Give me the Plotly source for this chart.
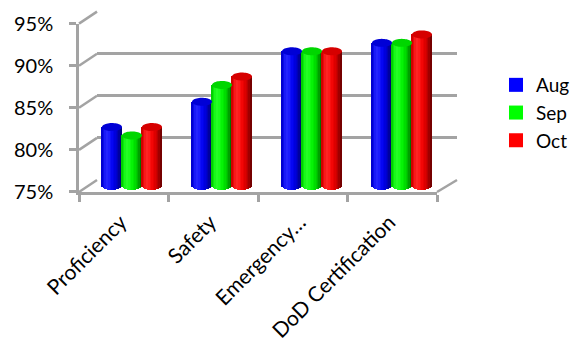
import numpy as np
import plotly.graph_objects as go

# ---------------- data ----------------
categories = ["Proficiency", "Safety", "Emergency…", "DoD Certification"]
series_names = ["Aug", "Sep", "Oct"]
aug = [0.82, 0.85, 0.91, 0.92]
sep = [0.81, 0.87, 0.91, 0.92]
oct_ = [0.82, 0.88, 0.91, 0.93]
series_values = [aug, sep, oct_]
y_ticks = [0.75, 0.80, 0.85, 0.90, 0.95]
y_tick_labels = ["75%", "80%", "85%", "90%", "95%"]
series_rgb = [(0, 0, 255), (0, 255, 0), (255, 0, 0)]

# ---------------- geometry (pixels, window coordinates) ----------------
OFF = 8                 # page body margin
W, H = 586 - OFF, 343 - OFF
PPU = 842.0             # pixels per 1.0 (100%)
Y0 = 0.75
FRONT_X = (79, 437); FRONT_Y0 = 192
BACK_X = (97, 457);  BACK_Y0 = 180
MID_X = (87, 447);   MID_Y0 = 186
GRID = "#a3a3a3"
FONT = "Lato"


def fx(px):
    return (px - OFF) / W


def fy(py_):
    return 1 - (py_ - OFF) / H


def py(y0px, v):
    return y0px - (v - Y0) * PPU


def ydomain(y0px, lo, hi):
    return [max(0.0, fy(py(y0px, lo))), min(1.0, fy(py(y0px, hi)))]


def xdomain(xs):
    return [fx(xs[0]), fx(xs[1])]


fig = go.Figure()

# back wall (x/y) - gridlines
fig.add_trace(go.Scatter(x=[0.5], y=[0.8], mode="markers", marker=dict(opacity=0),
                         hoverinfo="skip", showlegend=False, xaxis="x", yaxis="y"))
# front axes (x2/y2)
fig.add_trace(go.Scatter(x=categories, y=[0.8] * 4, mode="markers", marker=dict(opacity=0),
                         hoverinfo="skip", showlegend=False, xaxis="x2", yaxis="y2"))

# cylinders (x3/y3)
n_cat = len(categories)
xpos = np.arange(n_cat)
bw = (MID_X[1] - MID_X[0]) / n_cat  # px per category
w = 20.0 / bw                       # bar width in category units
RY = 4.0 / PPU                      # ellipse half height in value units
K = 14
shapes = []

for i, (name, vals, rgb) in enumerate(zip(series_names, series_values, series_rgb)):
    vals = np.array(vals)
    dx = (i - 1) * w
    for j in range(K):
        t = -1 + (2 * j + 1) / K
        ang = np.arcsin(t)
        lam = max(0.0, np.cos(ang + 0.35))
        s = 0.45 + 0.55 * lam
        spec = max(0.0, np.cos(ang + 0.45)) ** 12 * 0.15
        col = tuple(int(min(255, c * s + (255 - c * s) * spec)) for c in rgb)
        base = Y0 - RY * np.sqrt(max(0.0, 1 - t * t))
        sw = w / K
        fig.add_trace(go.Bar(
            x=xpos, y=vals - base, base=base,
            width=sw * 1.25, offset=dx + t * w / 2 - sw * 1.25 / 2,
            marker=dict(color="rgb(%d,%d,%d)" % col, line=dict(width=0)),
            showlegend=False, hoverinfo="skip", xaxis="x3", yaxis="y3"))
    # legend entry
    fig.add_trace(go.Scatter(x=[None], y=[None], name=name, mode="markers",
                             marker=dict(symbol="square", size=14, color="rgb(%d,%d,%d)" % rgb,
                                         line=dict(width=0)),
                             xaxis="x3", yaxis="y3"))
    # caps
    capcol = "rgb(%d,%d,%d)" % tuple(int(c * 0.84) for c in rgb)
    th = np.linspace(0, 2 * np.pi, 48)
    for xc, v in zip(xpos + dx, vals):
        pts = ["%s%.5f,%.6f" % ("M" if k == 0 else "L", xc + w / 2 * np.cos(a), v + RY * np.sin(a))
               for k, a in enumerate(th)]
        shapes.append(dict(type="path", path=" ".join(pts) + " Z", xref="x3", yref="y3",
                           fillcolor=capcol, line=dict(width=0), layer="above"))

# left wall diagonals and right floor diagonal
for v in y_ticks:
    shapes.append(dict(type="line", xref="paper", yref="paper",
                       x0=fx(FRONT_X[0]), y0=fy(py(FRONT_Y0, v)),
                       x1=fx(BACK_X[0]), y1=fy(py(BACK_Y0, v)),
                       line=dict(color=GRID, width=2.5), layer="below"))
shapes.append(dict(type="line", xref="paper", yref="paper",
                   x0=fx(FRONT_X[1]), y0=fy(FRONT_Y0),
                   x1=fx(BACK_X[1]), y1=fy(BACK_Y0),
                   line=dict(color=GRID, width=2.5), layer="below"))

lo, hi = 0.7499, 0.9501
blo, bhi = 0.735, 0.96
fig.update_layout(
    width=W, height=H, margin=dict(l=0, r=0, t=0, b=0, autoexpand=False),
    paper_bgcolor="white", plot_bgcolor="rgba(0,0,0,0)",
    barmode="overlay", bargap=0,
    font=dict(family=FONT, size=20, color="black"),
    shapes=shapes,
    xaxis=dict(domain=xdomain(BACK_X), range=[0, 1], anchor="y", visible=False, fixedrange=True),
    yaxis=dict(domain=ydomain(BACK_Y0, lo, hi), range=[lo, hi], anchor="x",
               tickvals=y_ticks, showgrid=True, gridcolor=GRID, gridwidth=2.5,
               showticklabels=False, ticks="", showline=False, zeroline=False),
    xaxis2=dict(domain=xdomain(FRONT_X), anchor="y2", type="category", automargin=False,
                categoryorder="array", categoryarray=categories, range=[-0.5, n_cat - 0.5],
                showline=True, linecolor=GRID, linewidth=2.5, ticks="outside", tickson="boundaries",
                ticklen=7, tickwidth=2.5, tickcolor=GRID, tickangle=-45, showgrid=False,
                ticklabelstandoff=7, ticklabelshift=-3,
                zeroline=False, tickfont=dict(family=FONT, size=21, color="black")),
    yaxis2=dict(domain=ydomain(FRONT_Y0, lo, hi), range=[lo, hi], anchor="x2", automargin=False,
                tickvals=y_ticks, ticktext=y_tick_labels, showgrid=False, zeroline=False,
                showline=True, linecolor=GRID, linewidth=2.5, ticks="outside", ticklen=7,
                tickwidth=2.5, tickcolor=GRID, ticklabelstandoff=12,
                tickfont=dict(family=FONT, size=20, color="black")),
    xaxis3=dict(domain=xdomain(MID_X), range=[-0.5, n_cat - 0.5], anchor="y3", visible=False),
    yaxis3=dict(domain=ydomain(MID_Y0, blo, bhi), range=[blo, bhi], anchor="x3",
                visible=False),
    legend=dict(x=fx(496), y=fy(66), xanchor="left", yanchor="top",
                font=dict(family=FONT, size=19, color="black"), bgcolor="rgba(0,0,0,0)",
                tracegroupgap=0, itemwidth=30),
)

fig.write_html("out.html")
